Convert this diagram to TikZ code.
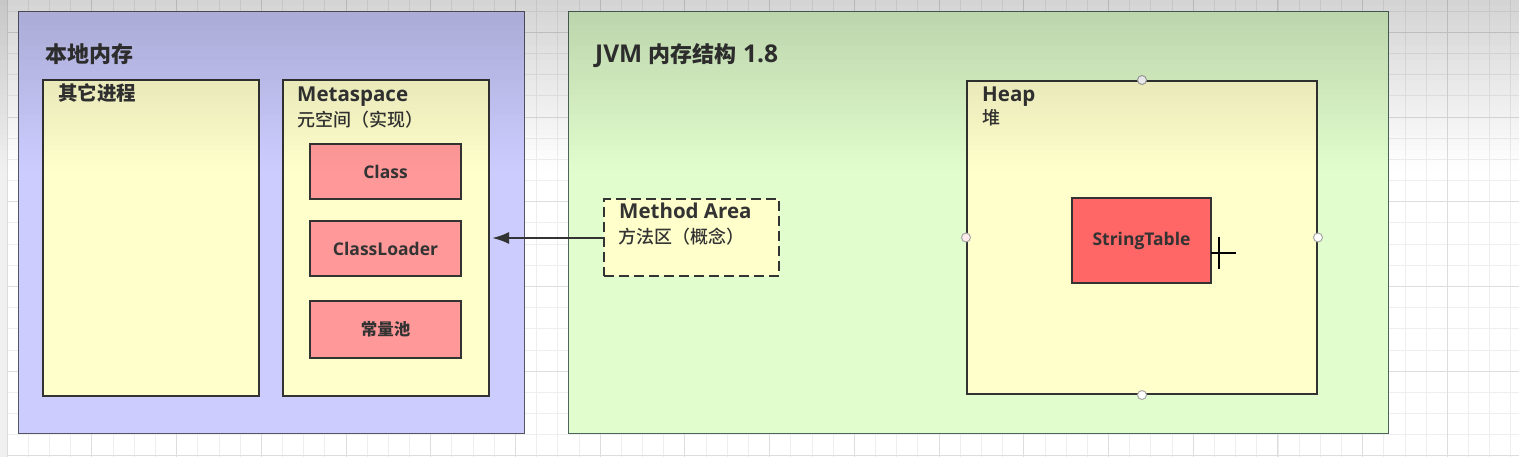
\documentclass[tikz,border=0pt]{standalone}
\usepackage{fontspec}
\setmainfont{Open Sans}
\newfontfamily\cjk{Noto Sans CJK SC}
\newfontfamily\cjkmed{Noto Sans CJK SC}[UprightFont={* Medium}]
\usetikzlibrary{arrows.meta}
\definecolor{gridminor}{HTML}{EEEEEE}
\definecolor{gridmajor}{HTML}{DDDDDD}
\definecolor{lavender}{HTML}{CCCCFF}
\definecolor{mint}{HTML}{E1FDCD}
\definecolor{cream}{HTML}{FFFFCC}
\definecolor{salmon}{HTML}{FF9999}
\definecolor{redbox}{HTML}{FF6666}
\definecolor{edge}{HTML}{333333}
\definecolor{outeredge}{HTML}{555566}
\definecolor{txt}{HTML}{333333}
\begin{document}
\begin{tikzpicture}[x=1pt,y=-1pt,
  outerbox/.style={draw=outeredge, line width=1.4pt, anchor=north west, inner sep=0pt},
  panel/.style={draw=edge, line width=2pt, fill=cream, anchor=north west, inner sep=0pt},
  item/.style={draw=edge, line width=2pt, fill=salmon, inner sep=0pt,
    minimum width=151pt, text=txt, font=\fontsize{17.5}{20}\selectfont\bfseries},
  bigtitle/.style={anchor=base west, inner sep=0pt, text=txt, font=\fontsize{24.5}{26}\selectfont\bfseries},
  boxtitle/.style={anchor=base west, inner sep=0pt, text=txt, font=\fontsize{20.5}{22}\selectfont\bfseries},
  boxsub/.style={anchor=base west, inner sep=0pt, text=txt, font=\fontsize{18}{20}\selectfont\cjkmed},
  handle/.style={circle, draw=gray!70, fill=white, line width=1pt, minimum size=9pt, inner sep=0pt},
]
\useasboundingbox (0,0) rectangle (1519,457);
\fill[white] (0,0) rectangle (1519,457);
\fill[black!6] (0,0) rectangle (7,457);
% grid
\foreach \k in {0,...,71} \draw[gridminor, line width=0.8pt] ({7.1+21.18*\k},0) -- ++(0,457);
\foreach \k in {0,...,21} \draw[gridminor, line width=0.8pt] (7,{11.1+21.18*\k}) -- ++(1512,0);
\foreach \k in {0,...,17} \draw[gridmajor, line width=0.9pt] ({7.1+84.72*\k},0) -- ++(0,457);
\foreach \k in {0,...,5} \draw[gridmajor, line width=0.9pt] (7,{32.3+84.72*\k}) -- ++(1512,0);

% left: local memory
\node[outerbox, fill=lavender, minimum width=506pt, minimum height=422pt] (local) at (18,11) {};
\node[bigtitle] (localt) at (45,63) {\cjk\fontsize{22}{24}\selectfont 本地内存};
\node[panel, minimum width=216pt, minimum height=316pt] (other) at (42,79) {};
\node[boxtitle] (othert) at (58,101) {\cjk\fontsize{19.5}{22}\selectfont 其它进程};
\node[panel, minimum width=206pt, minimum height=316pt] (meta) at (282,79) {};
\node[boxtitle] (metat) at (297,102) {Metaspace};
\node[boxsub] (metas) at (297,127) {元空间（实现）};
\node[item, minimum height=55pt] (class) at (385.5,171.5) {Class};
\node[item, minimum height=55pt] (loader) at (385.5,248.5) {ClassLoader};
\node[item, minimum height=57pt] (pool) at (385.5,329.5) {\cjk\fontsize{16.5}{18}\selectfont 常量池};

% right: JVM
\node[outerbox, fill=mint, draw=outeredge!90!green, minimum width=820pt, minimum height=422pt] (jvm) at (568,11) {};
\node[bigtitle] (jvmt) at (595,63) {JVM {\cjk\fontsize{22}{24}\selectfont 内存结构} 1.8};
\node[panel, dashed, dash pattern=on 10pt off 5pt, minimum width=175pt, minimum height=77pt] (ma) at (603,198) {};
\node[boxtitle] (mat) at (619,219) {Method Area};
\node[boxsub] (mas) at (618,244) {方法区（概念）};
\node[panel, minimum width=350pt, minimum height=313pt] (heap) at (966,80) {};
\node[boxtitle] (heapt) at (982,102) {Heap};
\node[boxsub] (heaps) at (982,125) {堆};
\node[item, fill=redbox, minimum width=139pt, minimum height=85pt] (st) at (1141.5,240.5) {StringTable};

% connector
\draw[edge, line width=2.4pt, -{Latex[length=17pt,width=12pt]}, shorten >=2pt]
  (ma.west |- 0,238) -- (meta.east |- 0,238);

% selection handles
\node[handle] (hn) at (heap.north) {};
\node[handle] (hs) at (heap.south) {};
\node[handle, fill=red!8] (hw) at (heap.west) {};
\node[handle] (he) at (heap.east) {};

% cursor
\draw[black, line width=1.6pt] (1219,237) -- (1219,269);
\draw[black, line width=1.6pt] (1211,253) -- (1236,253);

% top shadow of the screen capture
\foreach \i in {0,...,33}{
  \pgfmathsetmacro\op{0.17*(1-(\i+0.5)/34)}
  \fill[black, fill opacity=\op] (0,{\i*5}) rectangle (1519,{\i*5+5});
}
\end{tikzpicture}
\end{document}
